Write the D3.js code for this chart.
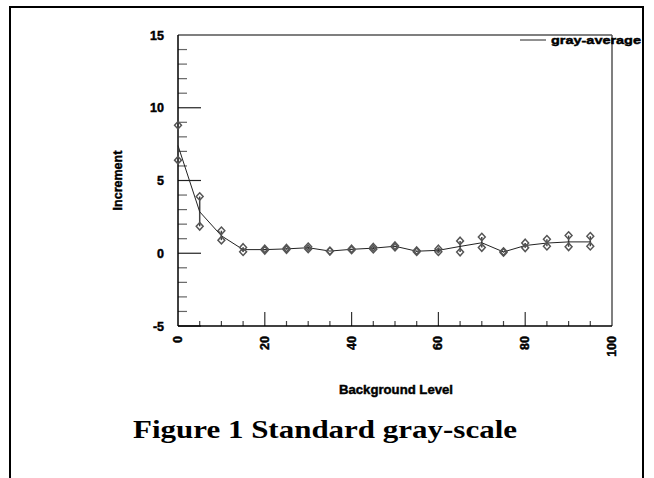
<!DOCTYPE html>
<html>
<head>
<meta charset="utf-8">
<script src="https://cdn.jsdelivr.net/npm/d3@7"></script>
<style>
  html, body { margin: 0; padding: 0; background: #fff; }
  svg { display: block; }
</style>
</head>
<body>
<svg id="chart" width="654" height="478"></svg>
<script>
// Background level at which each measurement was taken
const levels = [0, 5, 10, 15, 20, 25, 30, 35, 40, 45, 50, 55, 60, 65, 70, 75, 80, 85, 90, 95];
// Average increment (drawn as the connected line)
const grayAverage = [7.4, 2.85, 1.2, 0.25, 0.25, 0.3, 0.38, 0.15, 0.27, 0.35, 0.48, 0.14, 0.2, 0.47, 0.72, 0.09, 0.53, 0.7, 0.78, 0.78];
// Upper and lower measurements (diamonds joined by a bar)
const grayHigh = [8.8, 3.9, 1.55, 0.4, 0.3, 0.35, 0.45, 0.15, 0.3, 0.42, 0.52, 0.18, 0.3, 0.85, 1.12, 0.12, 0.71, 0.96, 1.22, 1.17];
const grayLow  = [6.4, 1.85, 0.9, 0.1, 0.2, 0.25, 0.3, 0.15, 0.22, 0.28, 0.42, 0.1, 0.1, 0.08, 0.39, 0.05, 0.37, 0.48, 0.44, 0.48];

const yTicks = [-5, 0, 5, 10, 15];
const xTicks = [0, 20, 40, 60, 80, 100];

const svg = d3.select("#chart");
const sans = "'Liberation Sans', Arial, sans-serif";

// Heavy sans label style
function heavy(sel, size) {
  return sel.attr("font-family", sans).attr("font-weight", "bold").attr("font-size", size)
    .attr("fill", "#000").attr("stroke", "#000").attr("stroke-width", 0.45);
}

// Outer frame of the figure
svg.append("path")
  .attr("d", "M10,478 L10,7 L643,7 L643,478")
  .attr("fill", "none").attr("stroke", "#000").attr("stroke-width", 2);

const plotL = 178, plotR = 612, plotT = 35, plotB = 326;
const x = d3.scaleLinear().domain([0, 100]).range([plotL, plotR]);
const y = d3.scaleLinear().domain([-5, 15]).range([plotB, plotT]);

// Inward ticks: minor every unit / 5 levels, major every 5 units / 20 levels
const g = svg.append("g");
d3.range(-5, 16, 1).filter(v => v % 5 !== 0).forEach(v => {
  g.append("line").attr("x1", plotL).attr("x2", plotL + 9)
    .attr("y1", y(v)).attr("y2", y(v)).attr("stroke", "#666").attr("stroke-width", 1.2);
});
[-5, 0, 5, 10].forEach(v => {
  g.append("line").attr("x1", plotL).attr("x2", plotL + 23)
    .attr("y1", y(v)).attr("y2", y(v)).attr("stroke", "#222").attr("stroke-width", 1.2);
});
d3.range(5, 100, 5).filter(v => v % 20 !== 0).forEach(v => {
  g.append("line").attr("x1", x(v)).attr("x2", x(v))
    .attr("y1", plotB).attr("y2", plotB - 5).attr("stroke", "#444").attr("stroke-width", 1.2);
});
[20, 40, 60, 80].forEach(v => {
  g.append("line").attr("x1", x(v)).attr("x2", x(v))
    .attr("y1", plotB).attr("y2", plotB - 14).attr("stroke", "#333").attr("stroke-width", 1.2);
});

// Plot frame
svg.append("line").attr("x1", plotL).attr("x2", plotR).attr("y1", plotT).attr("y2", plotT)
  .attr("stroke", "#000").attr("stroke-width", 1.2);
svg.append("line").attr("x1", plotR).attr("x2", plotR).attr("y1", plotT).attr("y2", plotB)
  .attr("stroke", "#555").attr("stroke-width", 1.5);
svg.append("line").attr("x1", plotL).attr("x2", plotR).attr("y1", plotB).attr("y2", plotB)
  .attr("stroke", "#000").attr("stroke-width", 1.5);
svg.append("line").attr("x1", plotL).attr("x2", plotL).attr("y1", plotT).attr("y2", plotB)
  .attr("stroke", "#000").attr("stroke-width", 1.5);

// Y tick labels
heavy(svg.append("g").selectAll("text").data(yTicks).join("text"), 12.5)
  .attr("x", 164).attr("y", d => y(d) + 4.5)
  .attr("text-anchor", "end")
  .text(d => d);

// X tick labels, rotated
heavy(svg.append("g").selectAll("text").data(xTicks).join("text"), 12.5)
  .attr("transform", d => `translate(${x(d) + 4},336) rotate(-90)`)
  .attr("text-anchor", "end")
  .text(d => d);

// Axis titles
heavy(svg.append("text"), 12.5)
  .attr("transform", `translate(122,${(plotT + plotB) / 2}) rotate(-90)`)
  .attr("text-anchor", "middle")
  .text("Increment");
heavy(svg.append("text"), 13)
  .attr("x", 396).attr("y", 394)
  .attr("text-anchor", "middle")
  .attr("textLength", 114).attr("lengthAdjust", "spacingAndGlyphs")
  .text("Background Level");

// Caption
svg.append("text")
  .attr("x", 325).attr("y", 438)
  .attr("text-anchor", "middle")
  .attr("font-family", "'Liberation Serif', 'Times New Roman', serif")
  .attr("font-weight", "bold").attr("font-size", 26)
  .attr("textLength", 384).attr("lengthAdjust", "spacingAndGlyphs")
  .text("Figure 1 Standard gray-scale");

// Data
const rows = levels.map((lv, i) => ({ lv, avg: grayAverage[i], hi: grayHigh[i], lo: grayLow[i] }));

// Range bars
svg.append("g").selectAll("line").data(rows).join("line")
  .attr("x1", d => x(d.lv)).attr("x2", d => x(d.lv))
  .attr("y1", d => y(d.hi)).attr("y2", d => y(d.lo))
  .attr("stroke", "#444").attr("stroke-width", 1.5);

// Average line
svg.append("path").datum(rows)
  .attr("d", d3.line().x(d => x(d.lv)).y(d => y(d.avg)))
  .attr("fill", "none").attr("stroke", "#222").attr("stroke-width", 1);

// Diamonds at the upper and lower values
const diamond = d3.symbol().type(d3.symbolDiamond).size(16);
const pts = rows.flatMap(d => [{ lv: d.lv, v: d.hi }, { lv: d.lv, v: d.lo }]);
svg.append("g").selectAll("path").data(pts).join("path")
  .attr("transform", d => `translate(${x(d.lv)},${y(d.v)}) scale(1.6,1)`)
  .attr("d", diamond)
  .attr("fill", "none").attr("stroke", "#555").attr("stroke-width", 1.1);

// Legend
svg.append("line").attr("x1", 520).attr("x2", 546).attr("y1", 40).attr("y2", 40)
  .attr("stroke", "#222").attr("stroke-width", 1);
heavy(svg.append("text"), 11.5)
  .attr("x", 551).attr("y", 44)
  .attr("textLength", 90).attr("lengthAdjust", "spacingAndGlyphs")
  .text("gray-average");
</script>
</body>
</html>
